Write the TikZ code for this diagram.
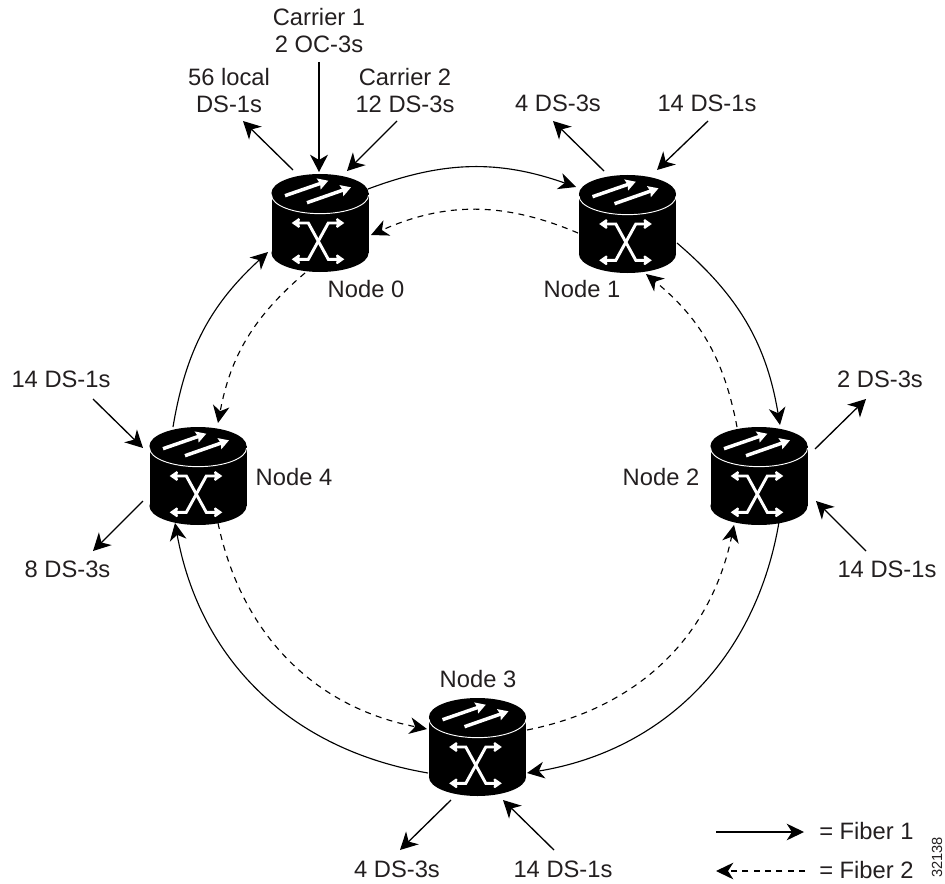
\documentclass[tikz,border=0pt]{standalone}
\usepackage{fontspec}
\setmainfont{Liberation Sans}
\usetikzlibrary{arrows.meta}
\definecolor{ink}{HTML}{231F20}
\tikzset{
  lab/.style={anchor=base,inner sep=0pt,text=ink,font=\fontsize{17.8}{20}\selectfont,align=center},
  device/.style={inner sep=0pt,minimum width=72.75pt,minimum height=73.5pt},
  feed/.style={line width=1pt,-{Stealth[length=13pt,width=13.5pt,inset=4pt]}},
  fiberone/.style={line width=.85pt,black,-{Stealth[length=13pt,width=12.5pt,inset=4pt]}},
  fibertwo/.style={line width=.85pt,black,dash pattern=on 4.5pt off 4pt,-{Stealth[length=13pt,width=12.5pt,inset=4pt,sep=0pt]}},
  whitearrow/.style={white,line width=2.6pt,-{Stealth[length=7.5pt,width=8.5pt,inset=1pt]}},
  crossarrow/.style={white,line width=2.2pt,miter limit=2,{Stealth[length=6.5pt,width=9pt,inset=1pt]}-{Stealth[length=6.5pt,width=9pt,inset=1pt]}},
  pics/xc/.style={code={
    \fill[black] (-48.5,0) rectangle (48.5,60);
    \fill[black] (0,60) ellipse [x radius=36.4pt,y radius=14.25pt];
    \fill[black] (0,0) ellipse [x radius=36.4pt,y radius=14.25pt];
    \draw[white,line width=.7pt] (-48.5,2) arc [start angle=180,end angle=360,x radius=36.4pt,y radius=14pt];
    \draw[whitearrow] (-35,2.7) -- (8.3,-12.3);
    \draw[whitearrow] (-13,9.7) -- (31,-5.7);
    \draw[crossarrow] (-28.3,30) -- (-11.7,30) -- (8.3,66.3) -- (24.3,66.3);
    \draw[crossarrow] (24.3,30) -- (8.3,30) -- (-11.7,66.3) -- (-28.3,66.3);
  }}
}
\begin{document}
\begin{tikzpicture}[x=.75pt,y=-.75pt]
\useasboundingbox (0,0) rectangle (945,884);

% devices
\node[device] (n0) at (320,223) {};
\node[device] (n1) at (627.5,224) {};
\node[device] (n2) at (759,476) {};
\node[device] (n3) at (477.5,747) {};
\node[device] (n4) at (198,476) {};
\pic at (320,193) {xc};
\pic at (627.5,194) {xc};
\pic at (759,446) {xc};
\pic at (477.5,717) {xc};
\pic at (198,446) {xc};

% labels
\node[lab] (c1a) at (319,26) {Carrier 1};
\node[lab] (c1b) at (319,52.7) {2 OC-3s};
\node[lab] (l56a) at (229,85.7) {56 local};
\node[lab] (l56b) at (229,112.4) {DS-1s};
\node[lab] (c2a) at (405,85.7) {Carrier 2};
\node[lab] (c2b) at (405,112.4) {12 DS-3s};
\node[lab] (l1a) at (558,112) {4 DS-3s};
\node[lab] (l1b) at (707,112) {14 DS-1s};
\node[lab] (l2a) at (880,387) {2 DS-3s};
\node[lab] (l2b) at (887,577) {14 DS-1s};
\node[lab] (l4a) at (61,387) {14 DS-1s};
\node[lab] (l4b) at (67.5,577) {8 DS-3s};
\node[lab] (l3a) at (397,877) {4 DS-3s};
\node[lab] (l3b) at (563,877) {14 DS-1s};
\node[lab] (t0) at (366,297) {Node 0};
\node[lab] (t1) at (582,297) {Node 1};
\node[lab] (t2) at (661,485) {Node 2};
\node[lab] (t3) at (478,687) {Node 3};
\node[lab] (t4) at (294,485) {Node 4};

% feed end points
\coordinate (a1) at (293,170); \coordinate (a2) at (243,121);
\coordinate (b1) at (319,62);  \coordinate (b2) at (319,172);
\coordinate (c1) at (397,121); \coordinate (c2) at (347,171);
\coordinate (d1) at (604,171); \coordinate (d2) at (553,121);
\coordinate (e1) at (708,121); \coordinate (e2) at (657,170);
\coordinate (f1) at (815,449); \coordinate (f2) at (866,399);
\coordinate (g1) at (866,551); \coordinate (g2) at (816,501);
\coordinate (h1) at (93,399);  \coordinate (h2) at (143,448);
\coordinate (i1) at (143,501); \coordinate (i2) at (93,551);
\coordinate (j1) at (451,800); \coordinate (j2) at (400,850);
\coordinate (k1) at (554,850); \coordinate (k2) at (503,800);
\foreach \p/\q in {a1/a2,b1/b2,c1/c2,d1/d2,e1/e2,f1/f2,g1/g2,h1/h2,i1/i2,j1/j2,k1/k2}
  \draw[feed] (\p) -- (\q);

% fiber 1 ring
\coordinate (s01) at (368,189); \coordinate (e01) at (576,187);
\coordinate (s12) at (677,243); \coordinate (e12) at (780,425);
\coordinate (s23) at (779,522); \coordinate (e23) at (527,773);
\coordinate (s34) at (428,773); \coordinate (e34) at (175,523);
\coordinate (s40) at (173,427); \coordinate (e40) at (268,252);
\draw[fiberone] (s01) to[bend left=20] (e01);
\draw[fiberone] (s12) to[bend left=20] (e12);
\draw[fiberone] (s23) to[bend left=35.5] (e23);
\draw[fiberone] (s34) to[bend left=35] (e34);
\draw[fiberone] (s40) to[bend left=19] (e40);

% fiber 2 ring
\coordinate (u10) at (578,233); \coordinate (v10) at (371,235);
\coordinate (u21) at (737,427); \coordinate (v21) at (646,274);
\coordinate (u32) at (527,730); \coordinate (v32) at (734,525);
\coordinate (u43) at (218,523); \coordinate (v43) at (427,729);
\coordinate (u04) at (305,273); \coordinate (v04) at (218,423);
\draw[fibertwo] (u10) to[bend right=23.5] (v10);
\draw[fibertwo] (u21) to[bend right=20] (v21);
\draw[fibertwo] (u32) to[bend right=33.5] (v32);
\draw[fibertwo] (u43) to[bend right=33.5] (v43);
\draw[fibertwo] (u04) to[bend right=19.5] (v04);

% legend
\coordinate (k1a) at (716,832); \coordinate (k1b) at (804,832);
\coordinate (k2a) at (805,871); \coordinate (k2b) at (716,871);
\draw[fiberone] (k1a) -- (k1b);
\draw[fibertwo] (k2a) -- (k2b);
\node[lab,anchor=base west] (key1) at (819,839) {= Fiber 1};
\node[lab,anchor=base west] (key2) at (819,878) {= Fiber 2};
\node[anchor=base,inner sep=0pt,text=ink,font=\fontsize{11}{13}\selectfont,rotate=90] (fig) at (942,857.5) {32138};
\end{tikzpicture}
\end{document}
